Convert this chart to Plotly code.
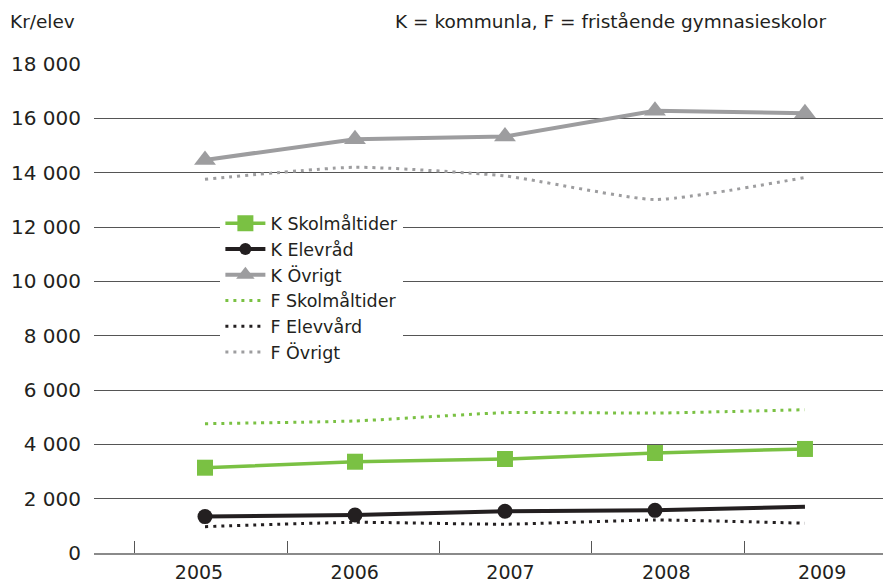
import plotly.graph_objects as go

years = [2005, 2006, 2007, 2008, 2009]
year_labels = ["2005", "2006", "2007", "2008", "2009"]

k_skolmaltider = [3140, 3360, 3460, 3680, 3830]
k_elevrad = [1340, 1400, 1535, 1570, 1705]
k_ovrigt = [14470, 15230, 15330, 16280, 16190]
f_skolmaltider = [4760, 4860, 5165, 5150, 5275]
f_elevvard = [970, 1130, 1060, 1215, 1095]
f_ovrigt = [13760, 14200, 13880, 13010, 13820]

y_ticks = [0, 2000, 4000, 6000, 8000, 10000, 12000, 14000, 16000, 18000]

GREEN = "#7ac143"
BLACK = "#231f20"
GREY = "#9d9d9f"
FONT = "DejaVu Sans"

fig = go.Figure()

fig.add_trace(go.Scatter(x=years, y=k_skolmaltider, name="K Skolmåltider", mode="lines+markers",
                         line=dict(color=GREEN, width=3.5),
                         marker=dict(symbol="square", size=16, color=GREEN, line=dict(width=0))))
fig.add_trace(go.Scatter(x=years, y=k_elevrad, name="K Elevråd", mode="lines+markers",
                         line=dict(color=BLACK, width=4),
                         marker=dict(symbol="circle", size=[15, 15, 15, 15, 0], color=BLACK,
                                     opacity=1, line=dict(width=0))))
fig.add_trace(go.Scatter(x=years, y=k_ovrigt, name="K Övrigt", mode="lines+markers",
                         line=dict(color=GREY, width=4),
                         marker=dict(symbol="triangle-up", size=19, color=GREY, line=dict(width=0))))
fig.add_trace(go.Scatter(x=years, y=f_skolmaltider, name="F Skolmåltider", mode="lines",
                         line=dict(color=GREEN, width=3, dash="3px,5px", shape="spline", smoothing=0.5)))
fig.add_trace(go.Scatter(x=years, y=f_elevvard, name="F Elevvård", mode="lines",
                         line=dict(color=BLACK, width=3, dash="3px,5px", shape="spline", smoothing=0.5)))
fig.add_trace(go.Scatter(x=years, y=f_ovrigt, name="F Övrigt", mode="lines",
                         line=dict(color=GREY, width=3, dash="3px,5px", shape="spline", smoothing=0.5)))

# empty helper traces so the overlaid label / tick axes are drawn
fig.add_trace(go.Scatter(x=[], y=[], xaxis="x2", yaxis="y", showlegend=False, hoverinfo="skip"))
fig.add_trace(go.Scatter(x=[], y=[], xaxis="x3", yaxis="y", showlegend=False, hoverinfo="skip"))

# the page body adds an 8px offset; margins compensate for it
fig.update_layout(
    width=891, height=587,
    margin=dict(l=86, r=0, t=56, b=42, autoexpand=False),
    paper_bgcolor="white", plot_bgcolor="white",
    separators=", ",
    font=dict(family=FONT, size=18, color=BLACK),
    showlegend=True,
    legend=dict(x=0.157, y=0.711, xanchor="left", yanchor="top",
                bgcolor="white", font=dict(family=FONT, size=17.5, color=BLACK),
                tracegroupgap=0, itemwidth=40),
    xaxis=dict(range=[2004.26, 2009.627], showgrid=False, zeroline=False,
               showticklabels=False, ticks="", showline=False, automargin=False),
    xaxis2=dict(overlaying="x", anchor="y", range=[2004.326, 2009.494],
                tickvals=years, ticktext=year_labels, ticks="", showgrid=False,
                zeroline=False, showline=False, ticklabelstandoff=6, automargin=False,
                tickfont=dict(family=FONT, size=19, color=BLACK)),
    xaxis3=dict(overlaying="x", anchor="y", range=[-0.269, 5.018],
                tickvals=[0, 1, 2, 3, 4, 5], showticklabels=False, ticks="inside",
                ticklen=12, tickwidth=1.2, tickcolor="#555555", showgrid=False,
                zeroline=False, showline=True, linecolor="#8a8a8a", linewidth=1.5,
                automargin=False),
    yaxis=dict(range=[0, 18000], tickvals=y_ticks, tickformat=",d",
               showgrid=True, gridcolor="#555555", gridwidth=1, zeroline=False,
               ticks="", showline=False, ticklabelstandoff=12, automargin=False,
               tickfont=dict(family=FONT, size=20, color=BLACK)),
)

fig.add_annotation(text="Kr/elev", xref="paper", yref="paper", x=-0.107, y=1.086,
                   xanchor="left", yanchor="middle", showarrow=False,
                   font=dict(family=FONT, size=18.5, color=BLACK))
fig.add_annotation(text="K = kommunla, F = fristående gymnasieskolor", xref="paper", yref="paper",
                   x=0.371, y=1.086, xanchor="left", yanchor="middle", showarrow=False,
                   font=dict(family=FONT, size=18.5, color=BLACK))

fig.write_html("out.html")
